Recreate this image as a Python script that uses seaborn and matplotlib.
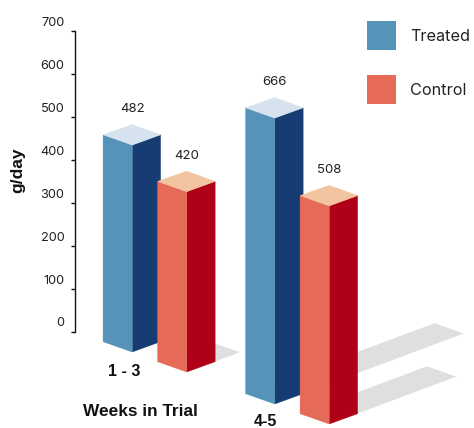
# 3D-look bars: seaborn lays out the bars, then each one is rebuilt as three faces

import matplotlib
matplotlib.use('Agg')
import matplotlib.pyplot as plt
from matplotlib.patches import Patch, Polygon
from matplotlib.transforms import ScaledTranslation
import pandas as pd
import seaborn as sns

# data
weeks = ['1 - 3', '4-5']
treated = [482, 666]
control = [420, 508]
groups = ['Treated', 'Control']
y_ticks = [0, 100, 200, 300, 400, 500, 600, 700]

# layout, measured in pixels
W, H = 474, 428
y_zero = 331.5            # pixel row of value 0
px_per_unit = 300.5 / 700
cat_step = 142.5          # pixels between the two week groups
cat0_x = 159.5            # pixel column of the first group centre
base_drop = [20.5, 40.5, 72.5, 92.5]    # how far each bar foot sits under the zero line
shadow_reach = [60, 53, 189, 127]       # horizontal reach of each floor shadow
half_left, half_right, rise = 29.2, 28.4, 10.3

# face colours: side, dark side, top
faces = {'Treated': ('#5593b9', '#163c73', '#d6e3ee'),
         'Control': ('#e66a58', '#b00018', '#f2c5a0')}
shadow_color = '#dfdfdf'

df = pd.DataFrame({
    'weeks': weeks * 2,
    'group': [groups[0]] * 2 + [groups[1]] * 2,
    'gain': treated + control,
})

sns.set_theme(style='white')
plt.rcParams['font.family'] = ['Inter', 'DejaVu Sans']
BOLD = 'Liberation Sans'

fig, ax = plt.subplots(figsize=(W / 100, H / 100), dpi=100)
ax.set_position([0, 0, 1, 1])
ax.patch.set_alpha(0)

sns.barplot(data=df, x='weeks', y='gain', hue='group', hue_order=groups,
            palette={g: faces[g][0] for g in groups}, width=0.765, gap=0,
            legend=False, errorbar=None, ax=ax)

# whole figure is the axes, so pixels map straight onto data
ax.set_xlim(-cat0_x / cat_step, (W - cat0_x) / cat_step)
ax.set_ylim((y_zero - H) / px_per_unit, y_zero / px_per_unit)


def to_data(px, py):
    return (px - cat0_x) / cat_step, (y_zero - py) / px_per_unit


# read the bars seaborn made, in left to right order
bars = sorted(ax.patches, key=lambda p: p.get_x())
info = [(b.get_x() + b.get_width() / 2, b.get_height()) for b in bars]
for b in bars:
    b.remove()
names = [groups[0], groups[1], groups[0], groups[1]]

# shadows first, they lie under all bars
for (cx, value), drop, reach in zip(info, base_drop, shadow_reach):
    fx = cx * cat_step + cat0_x
    fy = y_zero + drop
    dx, dy = reach, -reach * 0.373
    pts = [(fx - half_left, fy - rise), (fx, fy), (fx + dx, fy + dy),
           (fx - half_left + dx, fy - rise + dy)]
    ax.add_patch(Polygon([to_data(*p) for p in pts], closed=True, fc=shadow_color, ec='none', zorder=1))

for i, ((cx, value), drop, name) in enumerate(zip(info, base_drop, names)):
    fx = cx * cat_step + cat0_x
    foot = y_zero + drop
    top = foot - value * px_per_unit
    lx, rx = fx - half_left, fx + half_right
    side, dark, lid = faces[name]
    z = 2 + i
    left_face = [(lx, top - rise), (fx, top), (fx, foot), (lx, foot - rise)]
    right_face = [(fx, top), (rx, top - rise), (rx, foot - rise), (fx, foot)]
    top_face = [(lx, top - rise), (fx, top), (rx, top - rise), (fx, top - 2 * rise)]
    for pts, col in ((right_face, dark), (left_face, side), (top_face, lid)):
        ax.add_patch(Polygon([to_data(*p) for p in pts], closed=True, fc=col, ec=col, lw=0.25, zorder=z))
    tx, ty = to_data(fx, top - 2 * rise - 15.5)
    ax.text(tx, ty, str(int(value)), ha='center', va='center', fontsize=9.5, color='#222222', zorder=10)

# y axis sits inside the figure
for s in ('top', 'right', 'bottom'):
    ax.spines[s].set_visible(False)
ax.spines['left'].set_position(('data', to_data(75.5, 0)[0]))
ax.spines['left'].set_bounds(0, 700)
ax.spines['left'].set_color('#111111')
ax.spines['left'].set_linewidth(1)
ax.set_yticks(y_ticks)
ax.tick_params(axis='y', left=True, length=3, width=1, color='#111111', pad=5, labelsize=9.2, labelcolor='#222222')
# tick labels sit a little above their ticks in the original
shift = ScaledTranslation(0, 2.0 / 100, fig.dpi_scale_trans)
for label in ax.get_yticklabels():
    label.set_va('bottom')
    label.set_transform(label.get_transform() + shift)
ax.set_xticks([])
ax.set_xlabel('')
ax.set_ylabel('')

# text labels
fig.text(18 / W, 1 - 170 / H, 'g/day', rotation=90, ha='center', va='center',
         fontsize=12.5, fontweight='bold', family=BOLD, color='#111111')
fig.text(124.5 / W, 1 - 371 / H, weeks[0], ha='center', va='center',
         fontsize=11.5, fontweight='bold', family=BOLD, color='#111111')
fig.text(265 / W, 1 - 422 / H, weeks[1], ha='center', va='center',
         fontsize=11.5, fontweight='bold', family=BOLD, color='#111111')
fig.text(140.5 / W, 1 - 411.5 / H, 'Weeks in Trial', ha='center', va='center',
         fontsize=12.4, fontweight='bold', family=BOLD, color='#111111')

# legend, handleheight loses a bit to the descent so solve for 29 px
handles = [Patch(fc=faces[g][0], ec='none', label=g) for g in groups]
fs = 11.7
fs_px = fs * 100 / 72
ax.legend(handles=handles, loc='upper left', bbox_to_anchor=(367 / W, 1 - 21 / H),
          frameon=False, fontsize=fs, borderpad=0, borderaxespad=0,
          handlelength=29 / fs_px, handleheight=(29 / fs_px - 0.245) / 0.65,
          labelspacing=25 / fs_px, handletextpad=14 / fs_px, labelcolor='#222222')

fig.savefig('out.png', dpi=100)
